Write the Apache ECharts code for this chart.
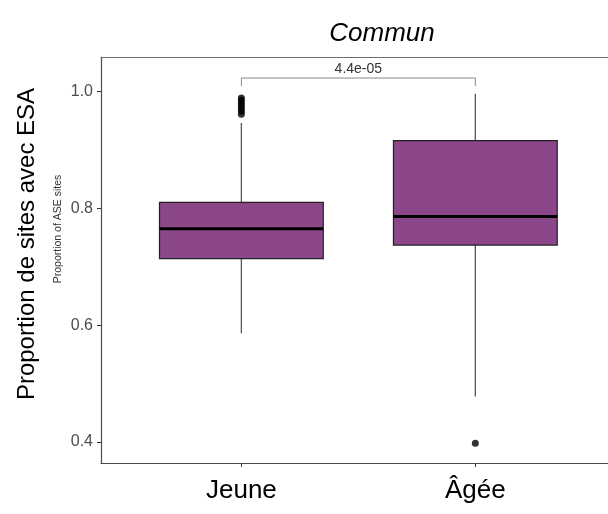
<!DOCTYPE html>
<html>
<head>
<meta charset="utf-8">
<script src="https://cdn.jsdelivr.net/npm/echarts@6/dist/echarts.min.js"></script>
<style>
  html, body { margin: 0; padding: 0; background: #fff; }
  #chart { width: 608px; height: 514px; }
</style>
</head>
<body>
<div id="chart"></div>
<script>
// Groups and their positions on the discrete x scale
const categories = ['Jeune', 'Âgée'];
const positions = [1, 2];

// Five-number summaries: [min whisker, Q1, median, Q3, max whisker]
const jeuneStats = [0.586, 0.714, 0.765, 0.810, 0.946];
const ageeStats = [0.478, 0.737, 0.786, 0.916, 0.996];

// Outlying observations per group
const jeuneOutliers = [0.989, 0.985, 0.980, 0.976, 0.971, 0.966, 0.961];
const ageeOutliers = [0.398];

// Comparison bracket between the two groups
const bracketLevel = 1.023;
const bracketDrop = 1.009;
const pValueLabel = '4.4e-05';

// Y ticks
const yTicks = [0.4, 0.6, 0.8, 1.0];

const boxData = [
  [positions[0]].concat(jeuneStats),
  [positions[1]].concat(ageeStats)
];
const outlierData = []
  .concat(jeuneOutliers.map(v => [positions[0], v]))
  .concat(ageeOutliers.map(v => [positions[1], v]));

const BOX_HALF = 0.35;
const X_MIN = 0.4, X_MAX = 2.567;
const FONT = '"Liberation Sans", Arial, sans-serif';

const chart = echarts.init(document.getElementById('chart'), null, { renderer: 'canvas' });

chart.setOption({
  backgroundColor: '#ffffff',
  animation: false,
  title: {
    text: 'Commun',
    left: 377,
    top: 16,
    textAlign: 'center',
    textStyle: { fontFamily: FONT, fontStyle: 'italic', fontWeight: 'normal', fontSize: 26, color: '#000' }
  },
  grid: { left: 101, right: 0, top: 57, bottom: 51, show: false },
  xAxis: [
    {
      type: 'value',
      min: X_MIN, max: X_MAX,
      splitLine: { show: false },
      axisLine: { show: true, lineStyle: { color: '#4d4d4d', width: 1.2 } },
      axisTick: { show: true, customValues: positions, length: 4, lineStyle: { color: '#333' } },
      axisLabel: {
        customValues: positions,
        formatter: v => categories[positions.indexOf(v)] || '',
        fontFamily: FONT, fontSize: 26, color: '#000', margin: 15
      }
    },
    {
      // frame line along the top of the panel
      type: 'value', position: 'top',
      min: X_MIN, max: X_MAX,
      splitLine: { show: false },
      axisLine: { show: true, onZero: false, lineStyle: { color: '#6e6e6e', width: 1.2 } },
      axisTick: { show: false },
      axisLabel: { show: false }
    }
  ],
  yAxis: {
    type: 'value',
    min: 0.364, max: 1.059,
    splitLine: { show: false },
    axisLine: { show: true, lineStyle: { color: '#4d4d4d', width: 1.2 } },
    axisTick: { show: true, customValues: yTicks, length: 4, lineStyle: { color: '#333' } },
    axisLabel: {
      customValues: yTicks,
      formatter: v => v.toFixed(1),
      fontFamily: FONT, fontSize: 16, color: '#4d4d4d', margin: 8
    }
  },
  graphic: [
    {
      type: 'text', x: 27, y: 244, rotation: Math.PI / 2,
      style: { text: 'Proportion de sites avec ESA', font: '24px ' + FONT, fill: '#000', align: 'center', verticalAlign: 'middle' }
    },
    {
      type: 'text', x: 58, y: 229, rotation: Math.PI / 2,
      style: { text: 'Proportion of ASE sites', font: '10.5px ' + FONT, fill: '#333', align: 'center', verticalAlign: 'middle' }
    }
  ],
  series: [
    {
      type: 'custom',
      name: 'box',
      data: boxData,
      encode: { x: 0, y: [1, 2, 3, 4, 5] },
      renderItem: function (params, api) {
        const x = api.value(0);
        const vMin = api.value(1), q1 = api.value(2), med = api.value(3), q3 = api.value(4), vMax = api.value(5);
        const pTop = api.coord([x, vMax]);
        const pQ3 = api.coord([x, q3]);
        const pQ1 = api.coord([x, q1]);
        const pBot = api.coord([x, vMin]);
        const lt = api.coord([x - BOX_HALF, q3]);
        const rb = api.coord([x + BOX_HALF, q1]);
        const mL = api.coord([x - BOX_HALF, med]);
        const mR = api.coord([x + BOX_HALF, med]);
        const whisker = { stroke: '#555555', lineWidth: 1.3 };
        return {
          type: 'group',
          children: [
            { type: 'line', shape: { x1: pTop[0], y1: pTop[1], x2: pQ3[0], y2: pQ3[1] }, style: whisker },
            { type: 'line', shape: { x1: pQ1[0], y1: pQ1[1], x2: pBot[0], y2: pBot[1] }, style: whisker },
            {
              type: 'rect',
              shape: { x: lt[0], y: lt[1], width: rb[0] - lt[0], height: rb[1] - lt[1] },
              style: { fill: '#8b4789', stroke: '#222222', lineWidth: 1.2 }
            },
            { type: 'line', shape: { x1: mL[0], y1: mL[1], x2: mR[0], y2: mR[1] }, style: { stroke: '#000', lineWidth: 3 } }
          ]
        };
      }
    },
    {
      type: 'scatter',
      name: 'outliers',
      data: outlierData,
      symbol: 'circle',
      symbolSize: 7,
      itemStyle: { color: '#000' }
    },
    {
      type: 'custom',
      name: 'bracket',
      data: [[positions[0], positions[1], bracketLevel, bracketDrop]],
      encode: { x: [0, 1], y: [2, 3] },
      renderItem: function (params, api) {
        const a = api.coord([api.value(0), api.value(2)]);
        const b = api.coord([api.value(1), api.value(2)]);
        const aD = api.coord([api.value(0), api.value(3)]);
        const bD = api.coord([api.value(1), api.value(3)]);
        const st = { stroke: '#8a8a8a', lineWidth: 1 };
        return {
          type: 'group',
          children: [
            { type: 'polyline', shape: { points: [aD, a, b, bD] }, style: Object.assign({ fill: null }, st) },
            {
              type: 'text', x: (a[0] + b[0]) / 2, y: a[1] - 2,
              style: { text: pValueLabel, font: '14px ' + FONT, fill: '#333', align: 'center', verticalAlign: 'bottom' }
            }
          ]
        };
      }
    }
  ]
});
</script>
</body>
</html>
